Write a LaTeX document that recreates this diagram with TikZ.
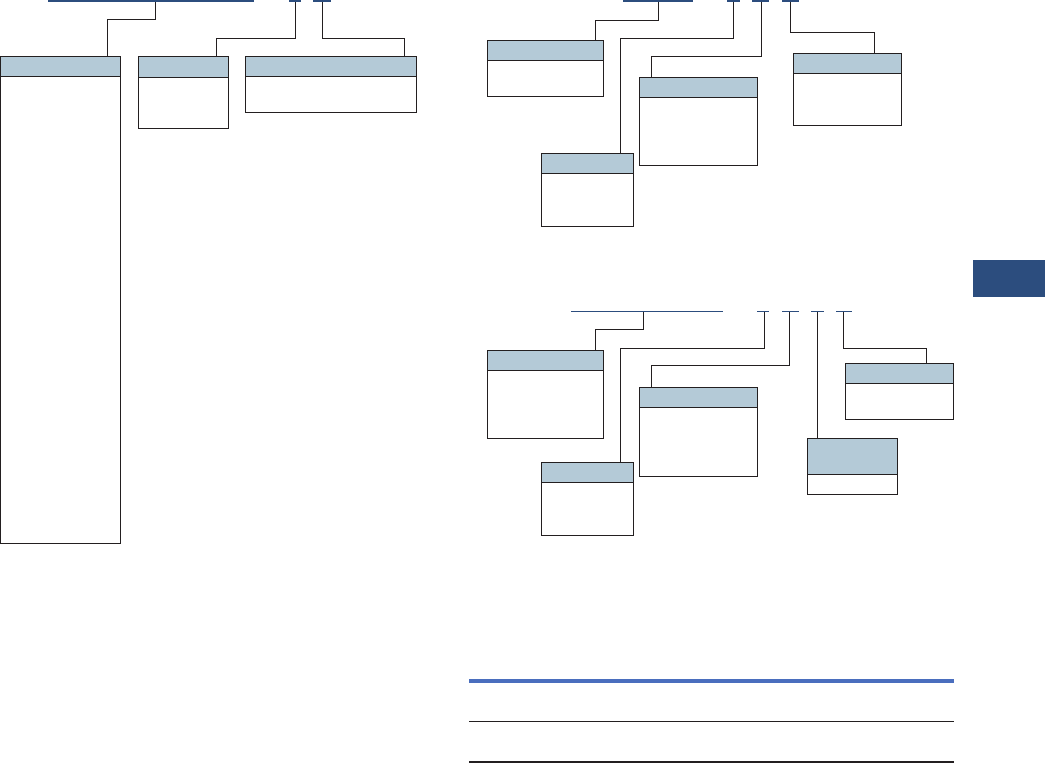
\documentclass[tikz,border=0pt]{standalone}

\definecolor{hdrblue}{HTML}{B4CAD7}
\definecolor{navy}{HTML}{2C4D7E}
\definecolor{ruleblue}{HTML}{4A6EBE}
\definecolor{ink}{HTML}{231F20}

% table box with a shaded header strip: name, x, y, width, height, header height
\newcommand{\tblbox}[6]{%
  \node[tbl,minimum width=#4pt,minimum height=#5pt] (#1) at (#2,#3) {};
  \node[hdr,minimum width=#4pt,minimum height=#6pt] (#1h) at (#1.north west) {};}

\begin{document}
\begin{tikzpicture}[x=1pt,y=-1pt,
  tbl/.style={draw=ink,line width=0.9pt,inner sep=0pt,outer sep=0pt,anchor=north west},
  hdr/.style={tbl,fill=hdrblue},
  bar/.style={fill=navy,inner sep=0pt,outer sep=0pt,minimum height=#1},
  bar/.default=1.2pt,
  wire/.style={draw=ink,line width=0.9pt}]
  \useasboundingbox (0,0) rectangle (1045,763);

  % Left diagram: underlined key parts at the top.
  \node[bar=2.5pt,minimum width=206pt] (lmain) at (151,1) {};
  \node[bar=2.5pt,minimum width=12pt] (lp1) at (295,1) {};
  \node[bar=2.5pt,minimum width=18pt] (lp2) at (322,1) {};
  % Left diagram: boxes.
  \tblbox{A}{0.5}{56.5}{119.5}{487}{20}
  \tblbox{B}{138.5}{56.5}{90}{71.5}{21}
  \tblbox{C}{245.5}{56.5}{171}{55.5}{20}
  % Left diagram: leader lines.
  \draw[wire] ([xshift=4.5pt]lmain.south) -- ++(0,17.5) -| ([xshift=-12.5pt]A.north east);
  \draw[wire] (lp1.south) -- ++(0,36) -| ([xshift=78pt]B.north west);
  \draw[wire] (lp2.south) -- ++(0,36) -| ([xshift=-12pt]C.north east);

  % Upper right diagram: key parts.
  \node[bar,minimum width=70pt] (rmain) at (657.8,1) {};
  \node[bar,minimum width=13pt] (q1) at (733.5,1) {};
  \node[bar,minimum width=16.7pt] (q2) at (760.3,1) {};
  \node[bar,minimum width=16.7pt] (q3) at (790.3,1) {};
  % Upper right diagram: boxes.
  \tblbox{D}{487.3}{40.3}{116}{56}{20}
  \tblbox{E}{541.3}{153.3}{92}{73}{20}
  \tblbox{F}{639.3}{77.3}{118}{87.7}{20}
  \tblbox{G}{793.3}{53.3}{108}{72}{20}
  % Upper right diagram: leader lines.
  \draw[wire] ([xshift=1pt]rmain.south) -- ++(0,18.7) -| ([xshift=-8pt]D.north east);
  \draw[wire] (q1.south) -- ++(0,36.7) -| ([xshift=-12.6pt]E.north east);
  \draw[wire] ([xshift=1.4pt]q2.south) -- ++(0,54.7) -| ([xshift=12pt]F.north west);
  \draw[wire] (q3.south) -- ++(0,30.7) -| ([xshift=-27pt]G.north east);

  % Lower right diagram: key parts.
  \node[bar,minimum width=152pt] (smain) at (647,311.3) {};
  \node[bar,minimum width=12pt] (s1) at (763,311.3) {};
  \node[bar,minimum width=17pt] (s2) at (790.5,311.3) {};
  \node[bar,minimum width=13pt] (s3) at (817.5,311.3) {};
  \node[bar,minimum width=16pt] (s4) at (844,311.3) {};
  % Lower right diagram: boxes.
  \tblbox{H}{487.3}{350.3}{116}{87.7}{19.7}
  \tblbox{I}{541.3}{462.3}{92}{73}{20}
  \tblbox{J}{639.3}{387.3}{118}{88.7}{20}
  \tblbox{K}{807.3}{438.3}{90}{55.7}{36}
  \tblbox{L}{845.3}{363.3}{108}{56}{20}
  % Lower right diagram: leader lines.
  \draw[wire] ([xshift=-3.7pt]smain.south) -- ++(0,17.4) -| ([xshift=-8pt]H.north east);
  \draw[wire] ([xshift=1.3pt]s1.south) -- ++(0,36.4) -| ([xshift=-12.6pt]I.north east);
  \draw[wire] ([xshift=-1.2pt]s2.south) -- ++(0,53.4) -| ([xshift=12pt]J.north west);
  \draw[wire] (s3.south) -- (s3.south |- K.north);
  \draw[wire] ([xshift=-0.7pt]s4.south) -- ++(0,36.4) -| ([xshift=-27pt]L.north east);

  % Rules at the bottom right.
  \draw[ruleblue,line width=3.7pt] (469,681) -- (953.7,681);
  \draw[ink,line width=1.2pt] (469,721.3) -- (953.7,721.3);
  \draw[ink,line width=1.2pt] (469,762) -- (953.7,762);

  % Chapter tab on the right edge.
  \fill[navy] (973,260) rectangle (1045,296.7);
\end{tikzpicture}
\end{document}
